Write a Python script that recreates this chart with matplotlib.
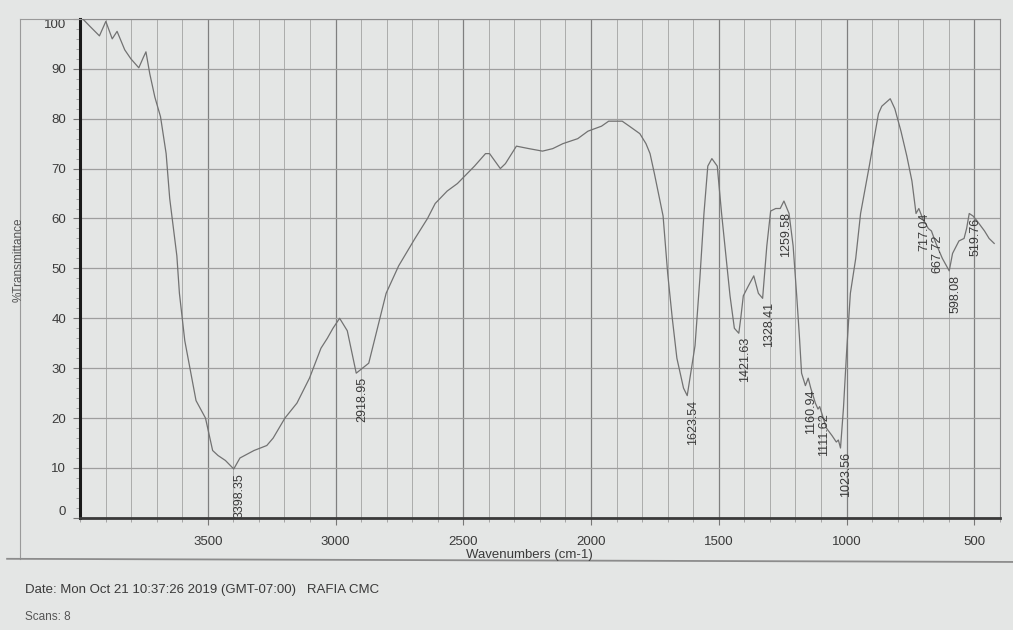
import numpy as np
import matplotlib
matplotlib.use('Agg')
import matplotlib.pyplot as plt
from matplotlib.ticker import FixedLocator, MultipleLocator
from matplotlib.lines import Line2D

# ---------------- data ----------------
wavenumber = [3995, 3961, 3924, 3899, 3874, 3855, 3825, 3801, 3770, 3752, 3742, 3727,
              3707, 3685, 3663, 3649, 3621, 3611, 3590, 3546, 3509, 3481, 3460, 3431,
              3398.35, 3374, 3319, 3269, 3244, 3198, 3151, 3102, 3057, 3032, 3010, 2984,
              2954, 2918.95, 2870, 2802, 2753, 2689, 2640, 2610, 2563, 2523, 2456, 2413,
              2397, 2355, 2335, 2292, 2243, 2190, 2150, 2110, 2052, 2012, 1959, 1931,
              1878, 1850, 1809, 1785, 1769, 1752, 1718, 1700, 1682, 1664, 1638, 1623.54,
              1593, 1574, 1558, 1543, 1527, 1506, 1489, 1472, 1456, 1439, 1421.63, 1414,
              1404, 1384, 1363, 1345, 1328.41, 1312, 1297, 1277, 1259.58, 1245, 1225,
              1209, 1195, 1184, 1176, 1160.94, 1150, 1140, 1122, 1111.62, 1105, 1079,
              1057, 1040, 1032, 1023.56, 1012, 1000, 985, 964, 945, 911, 875, 862, 829,
              811, 787, 764, 744, 728, 717.04, 702, 680, 667.72, 650, 625, 598.08, 585,
              560, 540, 530, 519.76, 505, 489, 460, 442, 422]
transmittance = [100.3, 98.5, 96.6, 99.5, 96.0, 97.5, 93.8, 92.0, 90.2, 92.3, 93.4, 89.0,
                 84.3, 80.4, 73.0, 64.0, 52.5, 45.0, 35.5, 23.5, 20.0, 13.5, 12.5, 11.5,
                 9.8, 12.0, 13.5, 14.5, 16.0, 20.0, 23.0, 28.0, 34.0, 36.0, 38.0, 40.0,
                 37.5, 29.0, 31.0, 45.0, 50.5, 56.0, 60.0, 63.0, 65.5, 67.0, 70.5, 73.0,
                 73.0, 70.0, 71.0, 74.5, 74.0, 73.5, 74.0, 75.0, 76.0, 77.5, 78.5, 79.5,
                 79.5, 78.5, 77.0, 75.0, 73.0, 69.0, 60.5, 49.0, 40.0, 32.0, 26.0, 24.5,
                 34.5, 48.0, 61.0, 70.5, 72.0, 70.5, 61.0, 52.5, 44.5, 38.0, 37.0, 40.0,
                 44.5, 46.5, 48.5, 45.0, 44.0, 54.5, 61.5, 62.0, 62.0, 63.5, 61.0,
                 54.5, 44.5, 36.0, 29.0, 26.5, 28.0, 26.0, 23.0, 21.8, 22.3, 18.0,
                 16.5, 15.2, 15.6, 14.0, 22.0, 33.0, 45.0, 52.0, 61.0, 70.5, 81.0, 82.5, 84.0,
                 82.0, 77.5, 72.5, 67.5, 61.0, 62.0, 60.0, 58.0, 57.5, 55.0, 52.0, 49.5, 53.0,
                 55.5, 56.0, 58.0, 61.0, 60.5, 59.5, 57.5, 56.0, 55.0]
peak_labels = [3398.35, 2918.95, 1623.54, 1421.63, 1328.41, 1259.58, 1160.94,
               1111.62, 1023.56, 717.04, 667.72, 598.08, 519.76]
x_ticks = [3500, 3000, 2500, 2000, 1500, 1000, 500]
y_ticks = [0, 10, 20, 30, 40, 50, 60, 70, 80, 90, 100]
x_label = 'Wavenumbers (cm-1)'
y_label = '%Transmittance'
footer_date = 'Date: Mon Oct 21 10:37:26 2019 (GMT-07:00)   RAFIA CMC'
footer_scans = 'Scans: 8'

# ---------------- style ----------------
plt.rcParams['font.family'] = ['Liberation Sans', 'DejaVu Sans']
PAPER = '#e4e6e5'
TEXT = '#3a3a3a'

fig = plt.figure(figsize=(10.13, 6.30), dpi=100, facecolor=PAPER)
ax = fig.add_axes([0.079, 0.178, 0.908, 0.792])
ax.set_facecolor(PAPER)

ax.plot(wavenumber, transmittance, color='#727272', lw=0.9, zorder=3)
ax.set_xlim(4000, 400)
ax.set_ylim(0, 100)

ax.xaxis.set_major_locator(FixedLocator(x_ticks))
ax.xaxis.set_minor_locator(MultipleLocator(100))
ax.yaxis.set_major_locator(FixedLocator(y_ticks))
ax.yaxis.set_minor_locator(MultipleLocator(2))

ax.grid(which='major', axis='x', color='#7f7f7f', lw=0.9, zorder=1)
ax.grid(which='minor', axis='x', color='#a2a2a2', lw=0.6, zorder=1)
ax.grid(which='major', axis='y', color='#9e9e9e', lw=0.9, zorder=1)

ax.tick_params(axis='both', which='major', labelsize=9.5, labelcolor=TEXT,
               color='#777777', length=5, width=0.8, pad=5)
ax.tick_params(axis='both', which='minor', color='#999999', length=3, width=0.6)
ax.tick_params(axis='x', which='major', pad=8)

for side in ('top', 'right'):
    ax.spines[side].set_color('#8a8a8a')
    ax.spines[side].set_linewidth(0.8)
ax.spines['left'].set_color('#1a1a1a')
ax.spines['left'].set_linewidth(2.2)
ax.spines['bottom'].set_color('#3a3a3a')
ax.spines['bottom'].set_linewidth(2.0)

# shift the end labels inside like the printout
fig.canvas.draw()
ylabels = ax.get_yticklabels()
ylabels[0].set_va('bottom')
ylabels[-1].set_va('top')

# peak labels
wn_arr = np.array(wavenumber)[::-1]
tr_arr = np.array(transmittance)[::-1]
for wn in peak_labels:
    yv = np.interp(wn, wn_arr, tr_arr)
    ax.text(wn, yv - 0.8, f'{wn:.2f}', rotation=90, ha='left', va='top',
            fontsize=9, color=TEXT, zorder=4)

# axis titles
fig.text(0.523, 0.119, x_label, ha='center', va='center', fontsize=9.5, color=TEXT)
fig.text(0.018, 0.587, y_label, ha='center', va='center', rotation=90,
         fontsize=8.5, color='#555555')

# outer frame / separator
fig.add_artist(Line2D([0.02, 0.079], [0.97, 0.97], transform=fig.transFigure,
                      color='#9a9a9a', lw=0.8))
fig.add_artist(Line2D([0.02, 0.02], [0.97, 0.113], transform=fig.transFigure,
                      color='#9a9a9a', lw=0.8))
fig.add_artist(Line2D([0.007, 1.0], [0.113, 0.108], transform=fig.transFigure,
                      color='#8c8c8c', lw=1.3))

# footer
fig.text(0.025, 0.063, footer_date, ha='left', va='center', fontsize=9.5, color=TEXT)
fig.text(0.025, 0.021, footer_scans, ha='left', va='center', fontsize=8.5, color='#555555')

fig.savefig('out.png', dpi=100, facecolor=PAPER)
